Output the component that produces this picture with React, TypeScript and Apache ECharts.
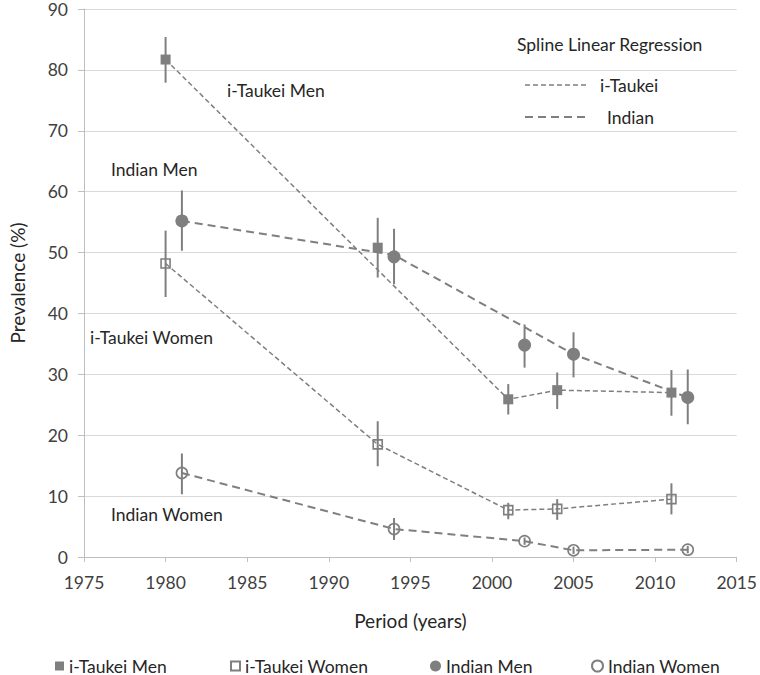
import React, { useEffect, useRef } from "react";
import * as echarts from "echarts";

// ---- Data ----
const tmYears = [1980, 1993, 2001, 2004, 2011];
const tmVals = [81.7, 50.8, 25.9, 27.4, 27.0];
const tmLo = [77.9, 45.9, 23.4, 24.3, 23.2];
const tmHi = [85.4, 55.7, 28.4, 30.3, 30.7];

const twYears = [1980, 1993, 2001, 2004, 2011];
const twVals = [48.2, 18.5, 7.7, 7.9, 9.5];
const twLo = [42.7, 14.9, 6.2, 6.1, 7.0];
const twHi = [53.6, 22.3, 8.9, 9.5, 12.1];

const imYears = [1981, 1994, 2002, 2005, 2012];
const imVals = [55.2, 49.3, 34.8, 33.3, 26.2];
const imLo = [50.3, 44.8, 31.1, 29.5, 21.8];
const imHi = [60.2, 53.9, 38.2, 36.9, 30.8];

const iwYears = [1981, 1994, 2002, 2005, 2012];
const iwVals = [13.8, 4.6, 2.6, 1.1, 1.2];
const iwLo = [10.3, 2.8, 2.0, 0.5, 0.6];
const iwHi = [17.0, 6.4, 3.2, 1.7, 1.8];

// Spline linear regression lines
const regTMYears = [1980, 2001, 2004, 2011];
const regTMVals = [81.7, 25.9, 27.4, 27.0];
const regTWYears = [1980, 1993, 2001, 2004, 2011];
const regTWVals = [48.2, 18.5, 7.7, 7.9, 9.5];
const regIMYears = [1981, 1994, 2005, 2012];
const regIMVals = [55.2, 49.6, 33.3, 26.2];
const regIWYears = [1981, 1994, 2002, 2005, 2012];
const regIWVals = [13.8, 4.6, 2.6, 1.1, 1.2];

const seriesNames = ["i-Taukei Men", "i-Taukei Women", "Indian Men", "Indian Women"];
const xTicks = { min: 1975, max: 2015, interval: 5 };
const yTicks = { min: 0, max: 90, interval: 10 };

const GRAY = "#7f7f7f";
const FONT = "Lato, 'Open Sans', sans-serif";
const TXT = "#262626";

const zip = (xs: number[], ys: number[]) => xs.map((x, i) => [x, ys[i]]);
const zip3 = (xs: number[], a: number[], b: number[]) => xs.map((x, i) => [x, a[i], b[i]]);

function errorSeries(xs: number[], lo: number[], hi: number[]) {
  return {
    type: "custom",
    silent: true,
    z: 3,
    data: zip3(xs, lo, hi),
    encode: { x: 0, y: [1, 2] },
    renderItem: (params: any, api: any) => {
      const x = api.value(0);
      const p1 = api.coord([x, api.value(1)]);
      const p2 = api.coord([x, api.value(2)]);
      return {
        type: "line",
        shape: { x1: p1[0], y1: p1[1], x2: p2[0], y2: p2[1] },
        style: { stroke: GRAY, lineWidth: 2 },
      };
    },
  };
}

function regSeries(xs: number[], ys: number[], dash: number[], width: number) {
  return {
    type: "line",
    silent: true,
    z: 2,
    data: zip(xs, ys),
    symbol: "none",
    lineStyle: { color: GRAY, width, type: dash },
  };
}

function label(text: string, x: number, y: number) {
  return {
    type: "text",
    x,
    y,
    style: { text, fontSize: 17.5, fill: TXT, fontFamily: FONT, verticalAlign: "middle", align: "left" },
  };
}

export default function App() {
  const ref = useRef<HTMLDivElement>(null);
  useEffect(() => {
    if (!ref.current) return;
    const chart = echarts.init(ref.current, null, { renderer: "svg" });
    const legendLefts = [53, 228, 428, 589];
    const legendIcons = ["rect", "rect", "circle", "circle"];
    const option: any = {
      animation: false,
      backgroundColor: "#ffffff",
      textStyle: { fontFamily: FONT },
      grid: { left: 76, right: 19, top: 7, bottom: 118, containLabel: false },
      xAxis: {
        type: "value",
        min: xTicks.min,
        max: xTicks.max,
        interval: xTicks.interval,
        name: "Period (years)",
        nameLocation: "middle",
        nameGap: 54,
        nameTextStyle: { fontSize: 19, color: TXT, fontFamily: FONT },
        axisLine: { show: true, lineStyle: { color: "#bfbfbf", width: 1 } },
        axisTick: { show: true, length: 5, lineStyle: { color: "#bfbfbf" } },
        axisLabel: {
          fontSize: 17.5,
          color: "#404040",
          margin: 16,
          fontFamily: FONT,
          formatter: (v: number) => String(v),
        },
        splitLine: { show: false },
      },
      yAxis: {
        type: "value",
        min: yTicks.min,
        max: yTicks.max,
        interval: yTicks.interval,
        name: "Prevalence (%)",
        nameLocation: "middle",
        nameGap: 57,
        nameTextStyle: { fontSize: 19, color: TXT, fontFamily: FONT },
        axisLine: { show: true, lineStyle: { color: "#bfbfbf", width: 1 } },
        axisTick: { show: true, length: 6, lineStyle: { color: "#bfbfbf" } },
        axisLabel: { fontSize: 17.5, color: "#404040", margin: 16, fontFamily: FONT },
        splitLine: { show: true, lineStyle: { color: "#d9d9d9", width: 1 } },
      },
      legend: seriesNames.map((n, i) => ({
        data: [{ name: n, icon: legendIcons[i] }],
        left: legendLefts[i],
        top: 655,
        itemWidth: i < 2 ? 9 : 11,
        itemHeight: i < 2 ? 9 : 11,
        itemGap: 0,
        padding: [2, 4, 2, 2],
        selectedMode: false,
        textStyle: { fontSize: 17.5, color: TXT, fontFamily: FONT },
      })),
      series: [
        regSeries(regTMYears, regTMVals, [5, 3], 1.5),
        regSeries(regTWYears, regTWVals, [5, 3], 1.5),
        regSeries(regIMYears, regIMVals, [8, 5], 2),
        regSeries(regIWYears, regIWVals, [8, 5], 2),
        errorSeries(tmYears, tmLo, tmHi),
        errorSeries(twYears, twLo, twHi),
        errorSeries(imYears, imLo, imHi),
        errorSeries(iwYears, iwLo, iwHi),
        {
          name: seriesNames[0],
          type: "scatter",
          z: 4,
          symbol: "rect",
          symbolSize: 10,
          data: zip(tmYears, tmVals),
          itemStyle: { color: GRAY, opacity: 1 },
        },
        {
          name: seriesNames[1],
          type: "scatter",
          z: 4,
          symbol: "rect",
          symbolSize: 9,
          data: zip(twYears, twVals),
          itemStyle: { color: "rgba(255,255,255,0)", borderColor: GRAY, borderWidth: 1.6, opacity: 1 },
        },
        {
          name: seriesNames[2],
          type: "scatter",
          z: 4,
          symbol: "circle",
          symbolSize: 13,
          data: zip(imYears, imVals),
          itemStyle: { color: GRAY, opacity: 1 },
        },
        {
          name: seriesNames[3],
          type: "scatter",
          z: 4,
          symbol: "circle",
          symbolSize: 11,
          data: zip(iwYears, iwVals),
          itemStyle: { color: "rgba(255,255,255,0)", borderColor: GRAY, borderWidth: 1.6, opacity: 1 },
        },
      ],
      graphic: [
        label("i-Taukei Men", 227, 90),
        label("Indian Men", 111, 169),
        label("i-Taukei Women", 90, 337),
        label("Indian Women", 111, 514),
        label("Spline Linear Regression", 517, 44),
        { type: "line", shape: { x1: 525, y1: 85, x2: 587, y2: 85 }, style: { stroke: GRAY, lineWidth: 1.5, lineDash: [5, 3] } },
        label("i-Taukei", 600, 85),
        { type: "line", shape: { x1: 525, y1: 117, x2: 587, y2: 117 }, style: { stroke: GRAY, lineWidth: 2, lineDash: [8, 5] } },
        label("Indian", 607, 117),
      ],
    };
    chart.setOption(option);
    return () => chart.dispose();
  }, []);
  return (
    <div
      ref={ref}
      style={{ position: "fixed", left: 0, top: 0, width: 760, height: 675, background: "#fff" }}
    />
  );
}
